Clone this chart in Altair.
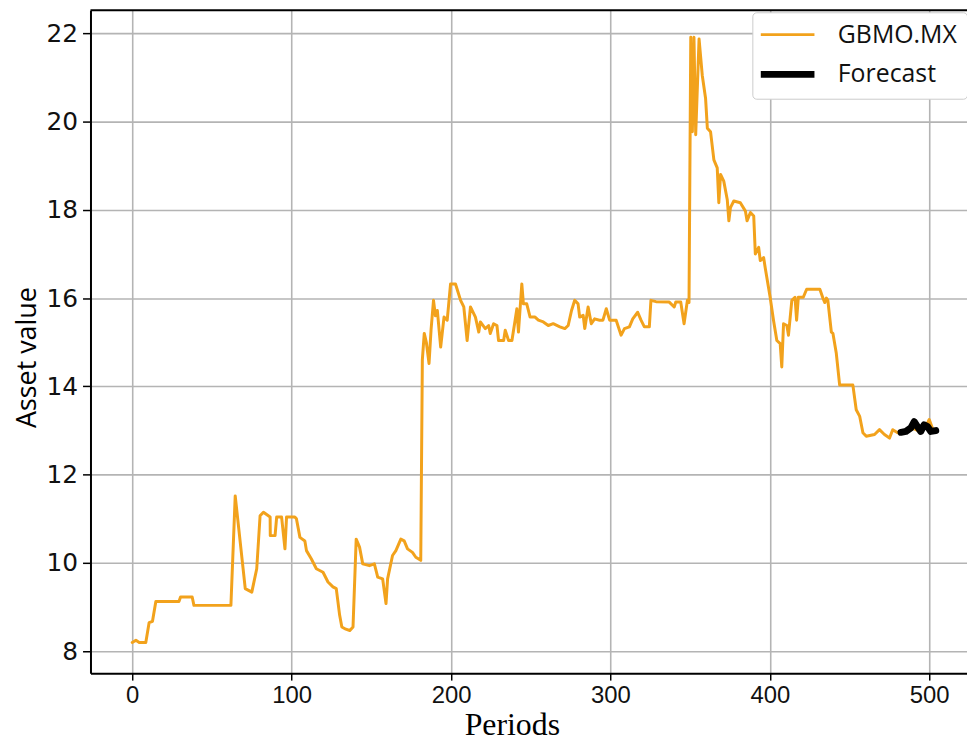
import altair as alt
import pandas as pd

# ---- data ----
gbmo_period = [0, 2.3, 4.4, 8.5, 10.6, 12.7, 14.8, 29.3, 30.3, 37.6, 38.7, 61.9, 64.6, 70.9, 75, 78.1,
               80.2, 82.3, 86.5, 86.6, 89.6, 90.6, 93.7, 95.8, 96.8, 102, 103, 105.2, 108.3, 109.3,
               112.4, 115.5, 119.7, 122.8, 125.9, 128, 130.1, 131.5, 134, 136.5, 138.5, 140.5, 142.6,
               144.6, 148.8, 151.9, 154, 157.1, 159.2, 160.2, 163.3, 165.4, 168.5, 170.6, 172.7, 175.8,
               177.9, 181, 182, 183.2, 184.5, 186.2, 187.5, 189, 190.2, 191.4, 193.5, 195.6, 197.6,
               199.7, 202.8, 206, 208, 210.1, 212.2, 215.3, 217.4, 218.4, 221.5, 223.6, 224.6, 226.7,
               228.8, 229.8, 233, 234, 236.1, 238.2, 240.2, 241.3, 242.3, 244.4, 245.4, 247.5, 249.6,
               252.7, 254.8, 257.9, 261, 264.1, 268.3, 271.4, 273.5, 275.6, 277.6, 279.7, 280.7, 282.9,
               283.9, 286, 288, 290.1, 293.2, 295.3, 297.4, 299.5, 303.6, 306.7, 308.8, 311.9, 314,
               317.1, 319.2, 321.3, 324.4, 325.4, 328.6, 336.9, 340, 341, 344.1, 346.2, 348.3, 349.3,
               350.4, 351.4, 352.4, 353.5, 355.6, 357.6, 359.7, 360.8, 362.8, 364.9, 367, 368, 369.1,
               371.1, 373.3, 374.3, 375.3, 377.4, 381.5, 384.7, 385.7, 387.8, 389.9, 390.9, 393, 394,
               396.1, 397.1, 400.2, 402.3, 404.4, 406.5, 407.5, 408.6, 410.7, 411.7, 413.8, 415.8,
               416.8, 417.9, 421, 423.1, 431.4, 433.5, 434.5, 435.5, 436.4, 438.6, 439.6, 441.7, 443.8,
               452.1, 454.2, 456.4, 458.4, 460.5, 465.7, 468.8, 471.9, 475.1, 477.1, 480.2, 482.3, 486,
               490, 494, 498, 500, 502, 505]
gbmo_value = [8.2, 8.25, 8.2, 8.2, 8.65, 8.68, 9.13, 9.13, 9.23, 9.23, 9.04, 9.04, 11.52, 9.42, 9.34, 9.87,
              11.07, 11.15, 11.04, 10.62, 10.62, 11.04, 11.04, 10.32, 11.04, 11.04, 11.0, 10.58, 10.5, 10.28,
              10.09, 9.87, 9.79, 9.57, 9.46, 9.42, 8.82, 8.55, 8.5, 8.47, 8.55, 10.54, 10.36,
              9.98, 9.94, 9.98, 9.68, 9.64, 9.08, 9.64, 10.17, 10.28, 10.54, 10.5, 10.32, 10.24,
              10.13, 10.06, 14.6, 15.2, 15.0, 14.52, 15.3, 15.95, 15.6, 15.72, 14.89, 15.57, 15.5,
              16.32, 16.32, 15.95, 15.8, 15.04, 15.8, 15.57, 15.23, 15.46, 15.31, 15.38, 15.2, 15.42,
              15.38, 15.04, 15.04, 15.27, 15.04, 15.04, 15.5, 15.76, 15.23, 16.32, 15.87, 15.87, 15.57,
              15.57, 15.5, 15.46, 15.38, 15.42, 15.35, 15.31, 15.38, 15.72, 15.95, 15.87, 15.57, 15.61,
              15.31, 15.8, 15.42, 15.53, 15.5, 15.5, 15.76, 15.5, 15.5, 15.16, 15.31, 15.35, 15.53,
              15.68, 15.5, 15.35, 15.35, 15.95, 15.92, 15.91, 15.8, 15.91, 15.91, 15.42, 15.95, 15.9,
              21.91, 19.77, 21.91, 19.7, 21.87, 21.05, 20.52, 19.85, 19.77, 19.13, 18.95, 18.16, 18.8,
              18.65, 18.23, 17.75, 18.05, 18.2, 18.16, 17.97, 17.75, 17.94, 17.86, 17.0, 17.15, 16.85,
              16.92, 16.69, 16.02, 15.5, 15.04, 14.97, 14.44, 15.42, 15.38, 15.16, 15.95, 16.02,
              15.5, 16.02, 16.02, 16.2, 16.2, 15.98, 15.9, 16.0, 15.95, 15.23, 15.2, 14.75, 14.03,
              14.03, 13.47, 13.32, 12.95, 12.87, 12.91, 13.02, 12.91, 12.83, 13.02, 12.95, 12.96, 12.98,
              13.05, 12.98, 13.1, 13.25, 13.05, 13.0]

forecast_period = [482.3, 485.4, 488.5, 490.6, 492.6, 494.7, 496.8, 498.9, 501, 504.1]
forecast_value = [12.96, 12.98, 13.06, 13.2, 13.09, 12.98, 13.13, 13.09, 12.98, 13.0]

series_names = ["GBMO.MX", "Forecast"]
series_colors = ["#f2a21c", "#000000"]
series_widths = [3, 7]

x_ticks = [0, 100, 200, 300, 400, 500]
y_ticks = [8, 10, 12, 14, 16, 18, 20, 22]

gbmo_df = pd.DataFrame({"period": gbmo_period, "value": gbmo_value, "series": series_names[0]})
fc_df = pd.DataFrame({"period": forecast_period, "value": forecast_value, "series": series_names[1]})

W, H = 882, 667

xs = alt.Scale(domain=[-26.2, 523.7], nice=False, zero=False)
ys = alt.Scale(domain=[7.505, 22.52], nice=False, zero=False)
cs = alt.Scale(domain=series_names, range=series_colors)
ws = alt.Scale(domain=series_names, range=series_widths)

legend = alt.Legend(
    title=None, orient="none", legendX=666, legendY=2,
    symbolType="M-1.5,0H3.9", symbolSize=400, labelFont="Open Sans", labelFontSize=25,
    labelColor="#111111", strokeColor="#cccccc", fillColor="white", cornerRadius=4,
    padding=10, rowPadding=12, labelOffset=49, symbolStrokeColor="black",
)

x_axis = alt.Axis(
    values=x_ticks, title="Periods", grid=True, gridColor="#b4b4b4", gridWidth=1.6,
    domainColor="black", domainWidth=2, tickColor="black", tickSize=7, tickWidth=1.5,
    labelFont="Liberation Sans", labelFontSize=24, labelColor="#111111", labelPadding=4,
    titleFont="Liberation Serif", titleFontSize=32, titleFontWeight="normal", titleColor="black",
    titleX=424, titleY=62, titleBaseline="alphabetic", titleAnchor="start", titleAlign="center",
)
y_axis = alt.Axis(
    values=y_ticks, title="Asset value", grid=True, gridColor="#b4b4b4", gridWidth=1.6,
    domainColor="black", domainWidth=2, tickColor="black", tickSize=8, tickWidth=1.5,
    labelFont="DejaVu Sans", labelFontSize=25, labelColor="#111111", labelPadding=5,
    titleFont="Open Sans", titleFontSize=27, titleFontWeight="normal", titleColor="black",
    titleX=-55, titleY=349, titleAngle=-90, titleBaseline="alphabetic", titleAlign="center",
)

base_enc = dict(
    x=alt.X("period:Q", scale=xs, axis=x_axis),
    y=alt.Y("value:Q", scale=ys, axis=y_axis),
    color=alt.Color("series:N", scale=cs, legend=legend),
    strokeWidth=alt.StrokeWidth("series:N", scale=ws, legend=legend),
)

gbmo_line = alt.Chart(gbmo_df).mark_line(strokeJoin="round", strokeCap="round").encode(**base_enc)
fc_line = alt.Chart(fc_df).mark_line(strokeJoin="round", strokeCap="round").encode(**base_enc)

top_border = alt.Chart(pd.DataFrame({"a": [0]})).mark_rule(color="black", strokeWidth=2).encode(
    x=alt.value(0), x2=alt.value(W), y=alt.value(0)
)

chart = alt.layer(gbmo_line, fc_line, top_border).properties(
    width=W, height=H,
    autosize=alt.AutoSizeParams(type="none"),
    padding={"left": 83, "top": 0, "right": 0, "bottom": 67},
    background="white",
).configure_view(stroke=None)

chart.save("out.html", embed_options={"renderer": "svg", "actions": False})
